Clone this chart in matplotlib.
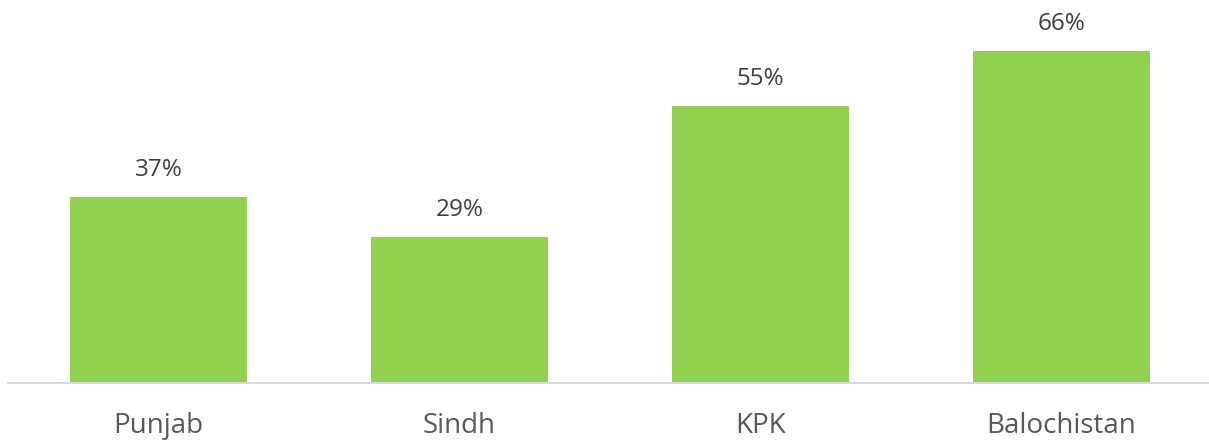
import matplotlib
matplotlib.use("Agg")
import matplotlib.pyplot as plt

# provincial shares (%)
provinces = ["Punjab", "Sindh", "KPK", "Balochistan"]
values = [37, 29, 55, 66]

plt.rcParams['font.family'] = ['Open Sans', 'DejaVu Sans']

fig = plt.figure(figsize=(12.09, 4.44), dpi=100)
ax = fig.add_axes([8 / 1209, 61 / 444, 1204 / 1209, 352 / 444])

x = range(len(provinces))
bars = ax.bar(x, values, width=0.585, color="#92D050", zorder=2)

for b, v in zip(bars, values):
    ax.annotate("%d%%" % v, (b.get_x() + b.get_width() / 2, v),
                xytext=(0, 11), textcoords="offset points",
                ha="center", va="bottom", fontsize=17.5, color="#404040")

ax.set_xlim(-0.5, 3.5)
ax.set_ylim(0, 70)
ax.set_xticks(list(x))
ax.set_xticklabels(provinces, fontsize=20, color="#595959")
ax.tick_params(axis="x", length=0, pad=21)
ax.set_yticks([])
for s in ["top", "right", "left"]:
    ax.spines[s].set_visible(False)
ax.spines["bottom"].set_color("#d9d9d9")
ax.spines["bottom"].set_linewidth(1.5)

fig.savefig("out.png", dpi=100)
